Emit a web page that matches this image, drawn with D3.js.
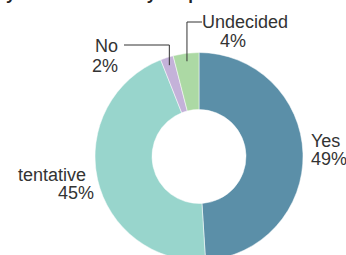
<!DOCTYPE html>
<html>
<head>
<meta charset="utf-8">
<script src="https://cdn.jsdelivr.net/npm/d3@7"></script>
<style>
  body { margin: 0; background: #fff; }
  svg { display: block; font-family: "Liberation Sans", Arial, sans-serif; }
</style>
</head>
<body>
<script>
const categories = ["Yes", "tentative", "No", "Undecided"];
const values = [49, 45, 2, 4];
const colors = ["#5b8fa8", "#98d5cc", "#c4b2d9", "#acd9a4"];
const title = "you interested in your products";

const width = 346, height = 255;
const cx = 199, cy = 156.5, outerR = 104, innerR = 47;

const svg = d3.select("body").append("svg")
  .attr("width", width)
  .attr("height", height);

// title is cut off by the top edge in the reference
svg.append("text")
  .attr("x", 6)
  .attr("y", -0.5)
  .attr("font-size", "17px")
  .attr("font-weight", "bold")
  .attr("fill", "#222")
  .text(title);

const data = categories.map((c, i) => ({ name: c, value: values[i], color: colors[i] }));

const pie = d3.pie().sort(null).value(d => d.value);
const arc = d3.arc().innerRadius(innerR).outerRadius(outerR);
const arcs = pie(data);

const g = svg.append("g")
  .attr("transform", "translate(" + cx + "," + cy + ")");

g.selectAll("path")
  .data(arcs)
  .enter().append("path")
  .attr("d", arc)
  .attr("fill", d => d.data.color)
  .attr("stroke", "#fff")
  .attr("stroke-width", 0.5);

// point inside slice, on its mid angle
function inner(d, r) {
  const a = (d.startAngle + d.endAngle) / 2;
  return [Math.sin(a) * r, -Math.cos(a) * r];
}

const txt = "#333";
function label(lines, anchor) {
  const t = g.append("text")
    .attr("font-size", "18px")
    .attr("fill", txt)
    .attr("text-anchor", anchor);
  lines.forEach(l => {
    t.append("tspan").attr("x", l.x).attr("y", l.y).text(l.t);
  });
}

const pct = d => d.data.value + "%";

// Yes
label([{ t: "Yes", x: 112, y: -9.5 }, { t: pct(arcs[0]), x: 112, y: 8 }], "start");
// tentative
label([{ t: "tentative", x: -113, y: 24.5 }, { t: pct(arcs[1]), x: -105, y: 42 }], "end");
// No with leader
{
  const p = inner(arcs[2], 96);
  g.append("polyline")
    .attr("points", [[-75, -111.5], [p[0], -111.5], p].map(q => q.join(",")).join(" "))
    .attr("fill", "none").attr("stroke", "#333").attr("stroke-width", 1);
  label([{ t: "No", x: -81, y: -104.5 }, { t: pct(arcs[2]), x: -81, y: -84.5 }], "end");
}
// Undecided with leader
{
  const p = inner(arcs[3], 96);
  g.append("polyline")
    .attr("points", [[3, -134.5], [p[0], -134.5], p].map(q => q.join(",")).join(" "))
    .attr("fill", "none").attr("stroke", "#333").attr("stroke-width", 1);
  label([{ t: "Undecided", x: 3, y: -128.5 }, { t: pct(arcs[3]), x: 21, y: -109.5 }], "start");
}
</script>
</body>
</html>
